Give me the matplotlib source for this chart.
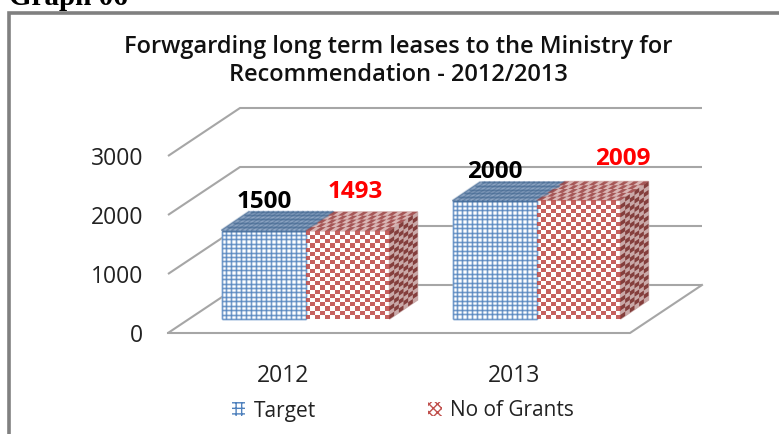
import matplotlib
matplotlib.use('Agg')
import matplotlib.pyplot as plt
from matplotlib.collections import PolyCollection, LineCollection
from matplotlib.patches import Patch

years = ['2012', '2013']
target = [1500, 2000]
grants = [1493, 2009]
ticks = [0, 1000, 2000, 3000]

W, H = 779, 434
# the front floor edge runs 168-630 px, one category is 231 px, 1000 units is 59 px
px_x = 231.0
px_y = 59.0 / 1000
depth_x = 72 / px_x
depth_y = 48 / px_y
bar_w = 84 / px_x
bar_dx = 28 / px_x
bar_dy = 19 / px_y
inset_x = 22 / px_x
inset_y = 14 / px_y

# label shifts in px, the value labels were placed by hand in the original
target_shift = [(-19, 31), (-20, 32)]
grants_shift = [(72, 42), (108, 44)]

plt.rcParams['font.family'] = ['Open Sans', 'DejaVu Sans']
plt.rcParams['hatch.linewidth'] = 1.0

fig = plt.figure(figsize=(W / 100, H / 100), dpi=100)
ax = fig.add_axes([0, 0, 1, 1])
ax.set_xlim(-168 / px_x, (W - 168) / px_x)
ax.set_ylim((333 - H) / px_y, 333 / px_y)
ax.axis('off')

GRID = '#a6a6a6'
for t in ticks:
    ax.plot([0, depth_x, 2 + depth_x], [t, t + depth_y, t + depth_y], color=GRID, lw=1.5, zorder=1, solid_capstyle='butt')
    ax.text(-25 / px_x, t, str(t), ha='right', va='center_baseline', fontsize=16.5, color='#222222')
ax.plot([0, 2, 2 + depth_x], [0, 0, depth_y], color=GRID, lw=1.5, zorder=1)


def face_points(x0, y0, ux, uy, vx, vy):
    return lambda s, t: (x0 + ux * s + vx * t, y0 + uy * s + vy * t)


def grid_face(pt, nu, nv, color, alpha, lw, zorder):
    segs = []
    for i in range(nu + 1):
        segs.append([pt(i / nu, 0), pt(i / nu, 1)])
    for j in range(nv + 1):
        segs.append([pt(0, j / nv), pt(1, j / nv)])
    ax.add_collection(LineCollection(segs, colors=color, alpha=0.25, linewidths=lw * 2.6, zorder=zorder))
    ax.add_collection(LineCollection(segs, colors=color, alpha=alpha, linewidths=lw, zorder=zorder))


def check_face(pt, nu, nv, color, alpha, zorder):
    cells = []
    for i in range(nu):
        for j in range(nv):
            if (i + j) % 2 == 0:
                cells.append([pt(i / nu, j / nv), pt((i + 1) / nu, j / nv),
                              pt((i + 1) / nu, (j + 1) / nv), pt(i / nu, (j + 1) / nv)])
    ax.add_collection(PolyCollection(cells, facecolors=color, edgecolors='none', alpha=alpha, zorder=zorder))


for i in range(len(years)):
    left = i + 0.5 - bar_w + inset_x

    # blue box
    v = target[i]
    x0 = left
    ax.fill([x0, x0 + bar_w, x0 + bar_w, x0], [inset_y, inset_y, v + inset_y, v + inset_y], color='white', zorder=3)
    grid_face(face_points(x0, inset_y, bar_w, 0, 0, v), 17, int(v / 75), '#4f81bd', 0.7, 0.8, 4)
    ax.fill([x0, x0 + bar_w, x0 + bar_w + bar_dx, x0 + bar_dx], [v + inset_y, v + inset_y, v + inset_y + bar_dy, v + inset_y + bar_dy], color='#a9bbd4', zorder=3)
    grid_face(face_points(x0, v + inset_y, bar_w, 0, bar_dx, bar_dy), 17, 5, '#3f658f', 0.5, 0.8, 4)

    # red box
    v = grants[i]
    x0 = left + bar_w
    ax.fill([x0, x0 + bar_w, x0 + bar_w, x0], [inset_y, inset_y, v + inset_y, v + inset_y], color='white', zorder=3)
    check_face(face_points(x0, inset_y, bar_w, 0, 0, v), 17, int(v / 70), '#c0504d', 0.9, 4)
    ax.fill([x0, x0 + bar_w, x0 + bar_w + bar_dx, x0 + bar_dx], [v + inset_y, v + inset_y, v + inset_y + bar_dy, v + inset_y + bar_dy], color='#d9b5b4', zorder=3)
    check_face(face_points(x0, v + inset_y, bar_w, 0, bar_dx, bar_dy), 17, 5, '#9a4040', 0.8, 4)
    xr = x0 + bar_w
    ax.fill([xr, xr + bar_dx, xr + bar_dx, xr], [inset_y, inset_y + bar_dy, v + inset_y + bar_dy, v + inset_y], color='#c9a9a8', zorder=3)
    check_face(face_points(xr, inset_y, bar_dx, bar_dy, 0, v), 6, int(v / 70), '#7d3230', 0.9, 4)

    ax.text(i + 0.5, -40 / px_y, years[i], ha='center', va='center_baseline', fontsize=16.5, color='#222222')

    # value labels sit above the boxes
    ax.text(i + 0.5 + target_shift[i][0] / px_x, target[i] + inset_y + target_shift[i][1] / px_y, str(target[i]),
            ha='center', va='center_baseline', fontsize=17.5, fontweight='bold', color='black', zorder=6)
    ax.text(i + 0.5 + grants_shift[i][0] / px_x, grants[i] + inset_y + grants_shift[i][1] / px_y, str(grants[i]),
            ha='center', va='center_baseline', fontsize=17.5, fontweight='bold', color='#ff0000', zorder=6)

fig.text(398 / W, 1 - 61 / H, 'Forwgarding long term leases to the Ministry for\nRecommendation - 2012/2013', ha='center', va='center',
         fontsize=17, fontweight='semibold', color='#111111', linespacing=1.25)

handles = [Patch(facecolor='white', edgecolor='#4f81bd', hatch='+++', lw=0),
           Patch(facecolor='white', edgecolor='#c0504d', hatch='xxxx', lw=0)]
leg = ax.legend(handles, ['Target', 'No of Grants'], ncol=2, frameon=False, fontsize=15,
                loc='center', bbox_to_anchor=(403 / W, 1 - 411 / H), handlelength=0.65, handleheight=0.65,
                handletextpad=0.4, columnspacing=5.4, labelcolor='#222222')

# outer frame from the pasted document, plus its cut-off caption
ax.plot([9 / W, 9 / W, 1], [0, 1 - 12.5 / H, 1 - 12.5 / H], transform=ax.transAxes, color='#808080', lw=2.6, solid_joinstyle='miter', zorder=7)
fig.text(9 / W, 1 - 5 / H, 'Graph 06', ha='left', va='baseline', family='Liberation Serif', fontsize=21, fontweight='bold', color='black')

fig.savefig('out.png', dpi=100)
